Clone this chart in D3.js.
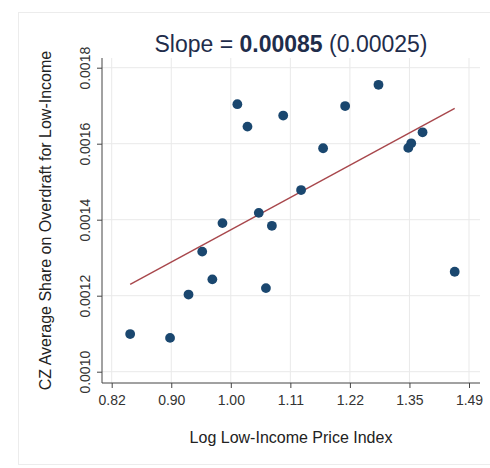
<!DOCTYPE html>
<html>
<head>
<meta charset="utf-8">
<script src="https://cdn.jsdelivr.net/npm/d3@7"></script>
<style>
  body { margin: 0; background: #fff; }
  text { font-family: "Liberation Sans", Arial, sans-serif; }
</style>
</head>
<body>
<div id="chart"></div>
<script>
// log low-income price index (x) and CZ average overdraft share (y)
var logPrice = [-0.169, -0.102, -0.071, -0.048, -0.031, -0.014, 0.011, 0.028, 0.047, 0.059,
                0.069, 0.088, 0.118, 0.155, 0.192, 0.248, 0.298, 0.303, 0.322, 0.376]
var overdraft = [0.001099, 0.001089, 0.001203, 0.001316, 0.001243, 0.001391, 0.001704, 0.001645, 0.001418, 0.001220,
                 0.001384, 0.001674, 0.001478, 0.001588, 0.001699, 0.001755, 0.001589, 0.001601, 0.001630, 0.001263]

// fitted line endpoints (slope 0.00085)
var fitX = [-0.169, 0.376]
var fitY = [0.001230, 0.001693]

var xTicks = [-0.2, -0.1, 0, 0.1, 0.2, 0.3, 0.4]
var xTickLabels = ["0.82", "0.90", "1.00", "1.11", "1.22", "1.35", "1.49"]
var yTicks = [0.0010, 0.0012, 0.0014, 0.0016, 0.0018]

var W = 490, H = 468
var plot = {left: 102, right: 480, top: 58, bottom: 383}

var svg = d3.select("#chart").append("svg")
  .attr("width", W)
  .attr("height", H)

// outer frame
svg.append("rect")
  .attr("x", 18.5).attr("y", 12.5)
  .attr("width", 490).attr("height", 452)
  .attr("fill", "none")
  .attr("stroke", "#ececec")

var x = d3.scaleLinear().domain([-0.2, 0.4]).range([111.7, 469])
var y = d3.scaleLinear().domain([0.0010, 0.0018]).range([371.7, 67.7])

// grid
svg.append("g").selectAll("line")
  .data(xTicks).enter().append("line")
    .attr("x1", d => x(d)).attr("x2", d => x(d))
    .attr("y1", plot.top).attr("y2", plot.bottom)
    .attr("stroke", "#e9e9e9")
svg.append("g").selectAll("line")
  .data(yTicks).enter().append("line")
    .attr("x1", plot.left).attr("x2", plot.right)
    .attr("y1", d => y(d)).attr("y2", d => y(d))
    .attr("stroke", "#e9e9e9")

// x axis
var xAxis = svg.append("g")
  .attr("transform", "translate(0," + plot.bottom + ")")
  .call(d3.axisBottom(x).tickValues(xTicks)
    .tickFormat((d, i) => xTickLabels[i]).tickSize(5).tickPadding(7))
xAxis.select(".domain").attr("d", "M" + plot.left + ",0H" + plot.right)
xAxis.selectAll("line, .domain").attr("stroke", "#444")
xAxis.selectAll("text").attr("fill", "#333").style("font-size", "14px")

// y axis
var yAxis = svg.append("g")
  .attr("transform", "translate(" + plot.left + ",0)")
  .call(d3.axisLeft(y).tickValues(yTicks).tickFormat(d3.format(".4f")).tickSize(5))
yAxis.select(".domain").attr("d", "M0," + plot.top + "V" + plot.bottom)
yAxis.selectAll("line, .domain").attr("stroke", "#444")
yAxis.selectAll("text")
  .attr("x", null).attr("dy", null)
  .attr("transform", "translate(-12,0) rotate(-90)")
  .attr("text-anchor", "middle")
  .attr("fill", "#333")
  .style("font-size", "14px")

// fit line
svg.append("path")
  .datum(fitX.map((d, i) => [d, fitY[i]]))
  .attr("d", d3.line().x(d => x(d[0])).y(d => y(d[1])))
  .attr("fill", "none")
  .attr("stroke", "#a8474c")
  .attr("stroke-width", 1.4)

// points
svg.append("g").selectAll("circle")
  .data(logPrice).enter().append("circle")
    .attr("cx", d => x(d))
    .attr("cy", (d, i) => y(overdraft[i]))
    .attr("r", 4.9)
    .attr("fill", "#1a476f")

// title
var title = svg.append("text")
  .attr("x", (plot.left + plot.right) / 2)
  .attr("y", 52)
  .attr("text-anchor", "middle")
  .attr("fill", "#1f2d4b")
  .style("font-size", "23px")
title.append("tspan").text("Slope = ")
title.append("tspan").attr("font-weight", "bold").text("0.00085")
title.append("tspan").text(" (0.00025)")

// axis titles
svg.append("text")
  .attr("x", (plot.left + plot.right) / 2)
  .attr("y", 443)
  .attr("text-anchor", "middle")
  .attr("fill", "#222")
  .style("font-size", "16px")
  .text("Log Low-Income Price Index")

svg.append("text")
  .attr("transform", "translate(51," + ((plot.top + plot.bottom) / 2) + ") rotate(-90)")
  .attr("text-anchor", "middle")
  .attr("fill", "#222")
  .style("font-size", "16px")
  .text("CZ Average Share on Overdraft for Low-Income")
</script>
</body>
</html>
